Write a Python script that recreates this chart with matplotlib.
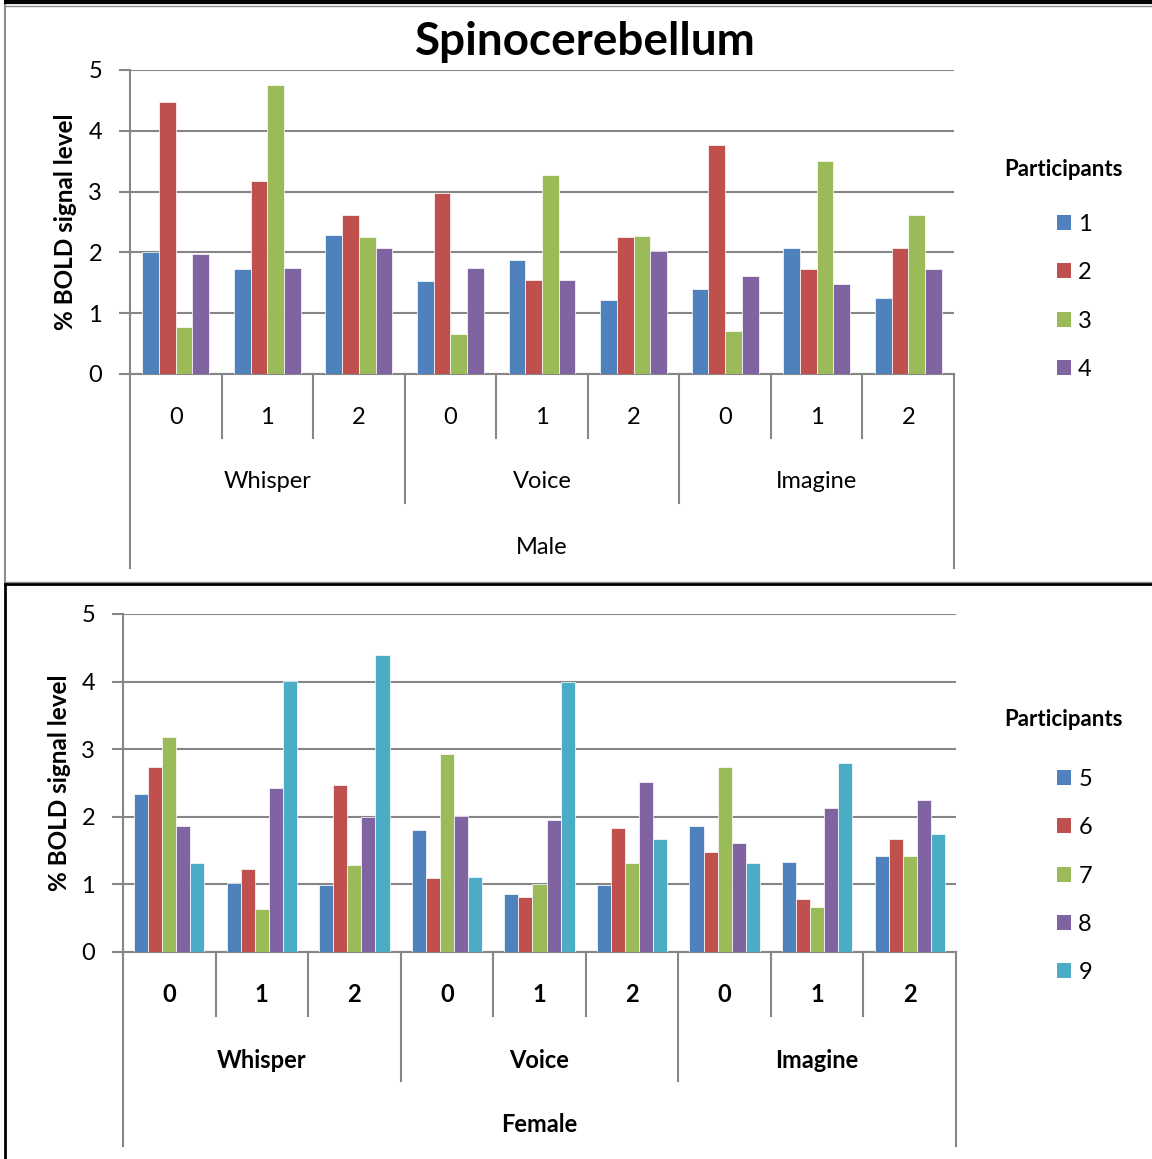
import numpy as np
import matplotlib
matplotlib.use('Agg')
from matplotlib import pyplot as plt
from matplotlib.lines import Line2D
from matplotlib.patches import Patch

plt.rcParams['font.family'] = ['Lato', 'DejaVu Sans']

levels = ['0', '1', '2'] * 3
conditions = ['Whisper', 'Voice', 'Imagine']

# top panel (male), participants 1-4
male_names = ['1', '2', '3', '4']
male_p1 = [2.00, 1.72, 2.28, 1.53, 1.87, 1.21, 1.40, 2.07, 1.25]
male_p2 = [4.47, 3.17, 2.62, 2.97, 1.55, 2.25, 3.76, 1.72, 2.08]
male_p3 = [0.78, 4.75, 2.25, 0.66, 3.27, 2.27, 0.71, 3.50, 2.61]
male_p4 = [1.97, 1.75, 2.08, 1.75, 1.55, 2.03, 1.62, 1.48, 1.72]

# bottom panel (female), participants 5-9
female_names = ['5', '6', '7', '8', '9']
female_p5 = [2.34, 1.02, 0.99, 1.81, 0.86, 0.99, 1.86, 1.33, 1.42]
female_p6 = [2.73, 1.23, 2.47, 1.09, 0.81, 1.84, 1.48, 0.79, 1.67]
female_p7 = [3.18, 0.63, 1.28, 2.93, 1.00, 1.31, 2.73, 0.66, 1.42]
female_p8 = [1.86, 2.43, 1.99, 2.01, 1.96, 2.51, 1.61, 2.13, 2.25]
female_p9 = [1.31, 4.01, 4.39, 1.11, 3.99, 1.67, 1.32, 2.80, 1.75]

colors = ['#4F81BD', '#C0504D', '#9BBB59', '#8064A2', '#4BACC6']
grid_col = '#868686'
fs = 17

W, H = 1152, 1159
fig = plt.figure(figsize=(W / 100, H / 100), dpi=100)


def fx(px):
    return px / W


def fy(py):
    return 1 - py / H


def panel(left, right, top, bottom, series, names, gender, bold, leg_title_y, leg_y):
    ax = fig.add_axes([fx(left), fy(bottom), fx(right - left), (bottom - top) / H])
    n = len(series)
    x = np.arange(len(levels))
    total = 0.73 if n == 4 else 0.76
    bw = total / n
    handles = []
    for i, vals in enumerate(series):
        ax.bar(x - total / 2 + bw * (i + 0.5), vals, bw, color=colors[i],
               edgecolor='white', linewidth=0.5, zorder=3)
        handles.append(Patch(facecolor=colors[i], edgecolor='none', label=names[i]))
    ax.set_xlim(-0.5, len(levels) - 0.5)
    ax.set_ylim(0, 5)
    ax.set_yticks(range(6))
    ax.yaxis.grid(True, color=grid_col, linewidth=1.5, zorder=0)
    ax.tick_params(axis='y', length=8, width=1.5, color=grid_col, labelsize=fs, pad=12)
    ax.set_xticks([])
    for s in ['top', 'right']:
        ax.spines[s].set_visible(False)
    for s in ['left', 'bottom']:
        ax.spines[s].set_color(grid_col)
        ax.spines[s].set_linewidth(1.5)
    ax.set_ylabel('% BOLD signal level', fontsize=17.5, fontweight='bold')

    # hierarchical category axis
    h = bottom - top
    tr = ax.get_xaxis_transform()
    fw = 'bold' if bold else 'normal'

    def frac(py):
        return (bottom - py) / h

    for b in range(len(levels) + 1):
        xb = b - 0.5
        if b in (0, len(levels)):
            end = bottom + 194
        elif b % 3 == 0:
            end = bottom + 129
        else:
            end = bottom + 64
        ax.plot([xb, xb], [0, frac(end)], color=grid_col, lw=1.5,
                transform=tr, clip_on=False)
    for i, lab in enumerate(levels):
        ax.text(i, frac(bottom + 43), lab, transform=tr, ha='center', va='center',
                fontsize=fs, fontweight=fw)
    for j, lab in enumerate(conditions):
        ax.text(3 * j + 1, frac(bottom + 108), lab, transform=tr, ha='center',
                va='center', fontsize=fs, fontweight=fw)
    ax.text(4, frac(bottom + 173), gender, transform=tr, ha='center', va='center',
            fontsize=fs, fontweight=fw)

    fig.text(fx(1064), fy(leg_title_y), 'Participants', ha='center', va='center',
             fontsize=16, fontweight='bold')
    fig.legend(handles=handles, loc='upper left',
               bbox_to_anchor=(fx(1057), fy(leg_y)), frameon=False, borderpad=0,
               borderaxespad=0, fontsize=fs, handlelength=0.6, handleheight=0.6,
               handletextpad=0.3, labelspacing=1.155)
    return ax


ax1 = panel(130, 954, 70, 374,
            [male_p1, male_p2, male_p3, male_p4], male_names, 'Male', False, 170, 214)
ax1.yaxis.set_label_coords(-0.064, 0.5)
fig.text(fx(585), fy(42), 'Spinocerebellum', ha='center', va='center',
         fontsize=33, fontweight='bold')

ax2 = panel(123, 956, 614, 952,
            [female_p5, female_p6, female_p7, female_p8, female_p9], female_names,
            'Female', True, 720, 769)
ax2.yaxis.set_label_coords(-0.062, 0.5)

# frames of the two chart boxes
fig.add_artist(Line2D([fx(6), 1], [fy(2), fy(2)], color='black', lw=3))
fig.add_artist(Line2D([fx(5), fx(5)], [fy(5), fy(583)], color='#8c8c8c', lw=1.5))
fig.add_artist(Line2D([fx(5), 1], [fy(5.5), fy(5.5)], color='#8c8c8c', lw=1))
fig.add_artist(Line2D([fx(5), 1], [fy(582), fy(582)], color='#8c8c8c', lw=1))
fig.add_artist(Line2D([fx(5), 1], [fy(584), fy(584)], color='black', lw=2))
fig.add_artist(Line2D([fx(5), fx(5)], [fy(584), 0], color='black', lw=2))

fig.savefig('out.png', dpi=100)
plt.close(fig)
